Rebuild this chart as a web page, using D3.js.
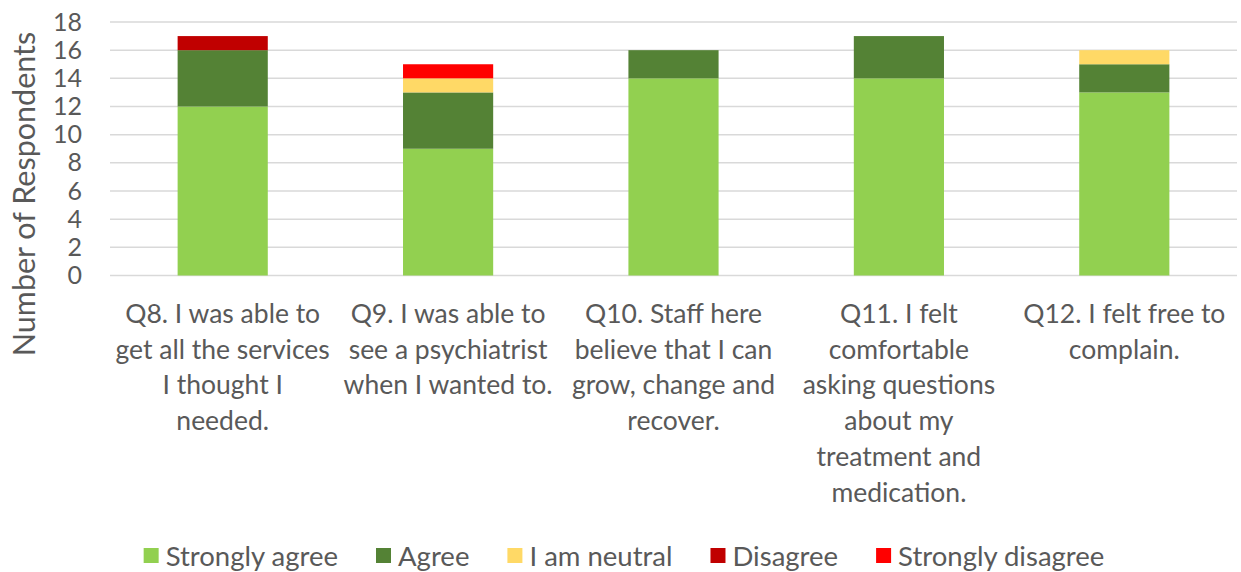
<!DOCTYPE html>
<html>
<head>
<meta charset="utf-8">
<script src="https://cdn.jsdelivr.net/npm/d3@7"></script>
<style>
  html, body { margin: 0; padding: 0; background: #ffffff; }
  svg { display: block; }
  text { font-family: Lato, "Open Sans", sans-serif; fill: #595959; }
</style>
</head>
<body>
<svg id="chart" width="1241" height="572"></svg>
<script>
// ---- data ----
const categories = [
  ["Q8. I was able to", "get all the services", "I thought I", "needed."],
  ["Q9. I was able to", "see a psychiatrist", "when I wanted to."],
  ["Q10. Staff here", "believe that I can", "grow, change and", "recover."],
  ["Q11. I felt", "comfortable", "asking questions", "about my", "treatment and", "medication."],
  ["Q12. I felt free to", "complain."]
];
const seriesNames = ["Strongly agree", "Agree", "I am neutral", "Disagree", "Strongly disagree"];
const stronglyAgree    = [12, 9, 14, 14, 13];
const agree            = [4, 4, 2, 3, 2];
const neutral          = [0, 1, 0, 0, 1];
const disagree         = [1, 0, 0, 0, 0];
const stronglyDisagree = [0, 1, 0, 0, 0];
const yTicks = [0, 2, 4, 6, 8, 10, 12, 14, 16, 18];
const yTitle = "Number of Respondents";
const colors = ["#92D050", "#548235", "#FFD966", "#C00000", "#FF0000"];

// ---- layout ----
const svg = d3.select("#chart");
const plot = { left: 110, right: 1237, top: 22, bottom: 275.5 };

const x = d3.scaleBand()
  .domain(d3.range(categories.length))
  .range([plot.left, plot.right])
  .paddingInner(0.6).paddingOuter(0.3);

const y = d3.scaleLinear().domain([0, 18]).range([plot.bottom, plot.top]);

// gridlines
svg.append("g").selectAll("line").data(yTicks).join("line")
  .attr("x1", plot.left).attr("x2", plot.right)
  .attr("y1", d => y(d)).attr("y2", d => y(d))
  .attr("stroke", "#d9d9d9").attr("stroke-width", 1.5);

// y axis labels
const yAxis = d3.axisLeft(y).tickValues(yTicks).tickSize(0).tickPadding(0);
const ya = svg.append("g").attr("transform", `translate(82,0)`).call(yAxis);
ya.select(".domain").remove();
ya.selectAll("text").attr("font-size", 25).attr("fill", "#595959")
  .style("font-family", "Lato, 'Open Sans', sans-serif");

// y title
svg.append("text")
  .attr("transform", `translate(23,194) rotate(-90)`)
  .attr("text-anchor", "middle").attr("dominant-baseline", "central")
  .attr("font-size", 30.5)
  .text(yTitle);

// stacked bars
const rows = categories.map((c, i) => ({
  i, "Strongly agree": stronglyAgree[i], "Agree": agree[i], "I am neutral": neutral[i],
  "Disagree": disagree[i], "Strongly disagree": stronglyDisagree[i]
}));
const stack = d3.stack().keys(seriesNames)(rows);
svg.append("g").selectAll("g").data(stack).join("g")
  .attr("fill", (d, k) => colors[k])
  .selectAll("rect").data(d => d.filter(p => p[1] > p[0])).join("rect")
  .attr("x", d => x(d.data.i))
  .attr("width", x.bandwidth())
  .attr("y", d => y(d[1]))
  .attr("height", d => y(d[0]) - y(d[1]));

// category labels
const lineH = 35.7;
const cl = svg.append("g");
categories.forEach((lines, i) => {
  const t = cl.append("text")
    .attr("text-anchor", "middle")
    .attr("font-size", 26.5)
    .attr("x", x(i) + x.bandwidth() / 2);
  lines.forEach((ln, j) => {
    t.append("tspan").attr("x", x(i) + x.bandwidth() / 2)
      .attr("y", 313 + j * lineH).attr("dominant-baseline", "central").text(ln);
  });
});

// legend
const lg = svg.append("g");
let cx = 0;
seriesNames.forEach((name, k) => {
  const g = lg.append("g");
  g.append("rect").attr("x", 0).attr("y", -7.5).attr("width", 15).attr("height", 15).attr("fill", colors[k]);
  const t = g.append("text").attr("x", 22).attr("y", 0).attr("dominant-baseline", "central")
    .attr("font-size", 27.5).text(name);
  const w = 22 + t.node().getComputedTextLength();
  g.attr("transform", `translate(${cx},555.5)`);
  cx += w + 38;
});
const totalW = cx - 38;
lg.attr("transform", `translate(${624 - totalW / 2},0)`);
</script>
</body>
</html>
